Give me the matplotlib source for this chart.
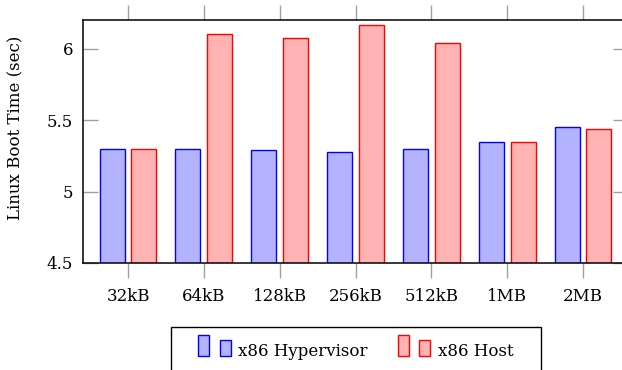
import numpy as np
import matplotlib
matplotlib.use('Agg')
from matplotlib import pyplot as plt
from matplotlib.patches import Rectangle
from matplotlib.legend_handler import HandlerBase

categories = ['32kB', '64kB', '128kB', '256kB', '512kB', '1MB', '2MB']
hypervisor = [5.30, 5.30, 5.29, 5.28, 5.30, 5.35, 5.45]
host = [5.295, 6.10, 6.073, 6.162, 6.038, 5.35, 5.436]
yticks = [4.5, 5, 5.5, 6]
ytick_labels = ['4.5', '5', '5.5', '6']

plt.rcParams['font.family'] = ['DejaVu Serif']

BLUE_FILL = (0.7, 0.7, 1.0)
RED_FILL = (1.0, 0.7, 0.7)
TICK_GRAY = '#a0a0a0'
FS = 12


class TwoBars(HandlerBase):
    # pgfplots style ybar legend: a tall and a short bar
    def create_artists(self, legend, orig_handle, xdescent, ydescent,
                       width, height, fontsize, trans):
        fc = orig_handle.get_facecolor()
        ec = orig_handle.get_edgecolor()
        w = 7.8
        y0 = -ydescent
        r1 = Rectangle((-xdescent, y0), w, 15, fc=fc, ec=ec, lw=1.0,
                       transform=trans)
        r2 = Rectangle((-xdescent + 15.5, y0), w, 11, fc=fc, ec=ec, lw=1.0,
                       transform=trans)
        return [r1, r2]


fig = plt.figure(figsize=(6.22, 3.70), dpi=100)
ax = fig.add_axes([83 / 622, 107 / 370, 545 / 622, 243 / 370])

x = np.arange(len(categories))
bw = 0.33
off = 0.21
b1 = ax.bar(x - off, hypervisor, bw, color=BLUE_FILL, edgecolor='blue',
            linewidth=1.0, label='x86 Hypervisor')
b2 = ax.bar(x + off, host, bw, color=RED_FILL, edgecolor='red',
            linewidth=1.0, label='x86 Host')

ax.set_xlim(-0.594, 6.594)
ax.set_ylim(4.5, 6.2)
ax.set_xticks(x)
ax.set_xticklabels(categories)
ax.set_yticks(yticks)
ax.set_yticklabels(ytick_labels)

ax.tick_params(axis='x', direction='out', length=10.8, width=1.0,
               color=TICK_GRAY, top=True, bottom=True, labelsize=FS, pad=7)
ax.tick_params(axis='y', direction='in', length=10.8, width=1.0,
               color=TICK_GRAY, left=True, right=True, labelsize=FS, pad=7)
for s in ax.spines.values():
    s.set_linewidth(1.1)

fig.text(16 / 622, 1 - 127.5 / 370, 'Linux Boot Time (sec)', rotation=90,
         ha='center', va='center', fontsize=FS)

# legend box runs off the bottom of the picture, so draw the frame by hand
fig.patches.append(Rectangle((171 / 622, -0.1), 370 / 622, 0.1 + 43 / 370,
                             transform=fig.transFigure, fill=False,
                             edgecolor='black', linewidth=1.0))
leg = fig.legend(handles=[b1.patches[0], b2.patches[0]],
                 labels=['x86 Hypervisor', 'x86 Host'],
                 handler_map={Rectangle: TwoBars()},
                 loc='center', bbox_to_anchor=(356 / 622, 1 - 351 / 370),
                 ncol=2, fontsize=FS, frameon=False, handlelength=1.95,
                 handletextpad=0.45, columnspacing=1.8, borderpad=0,
                 borderaxespad=0)

fig.savefig('out.png', dpi=100)
